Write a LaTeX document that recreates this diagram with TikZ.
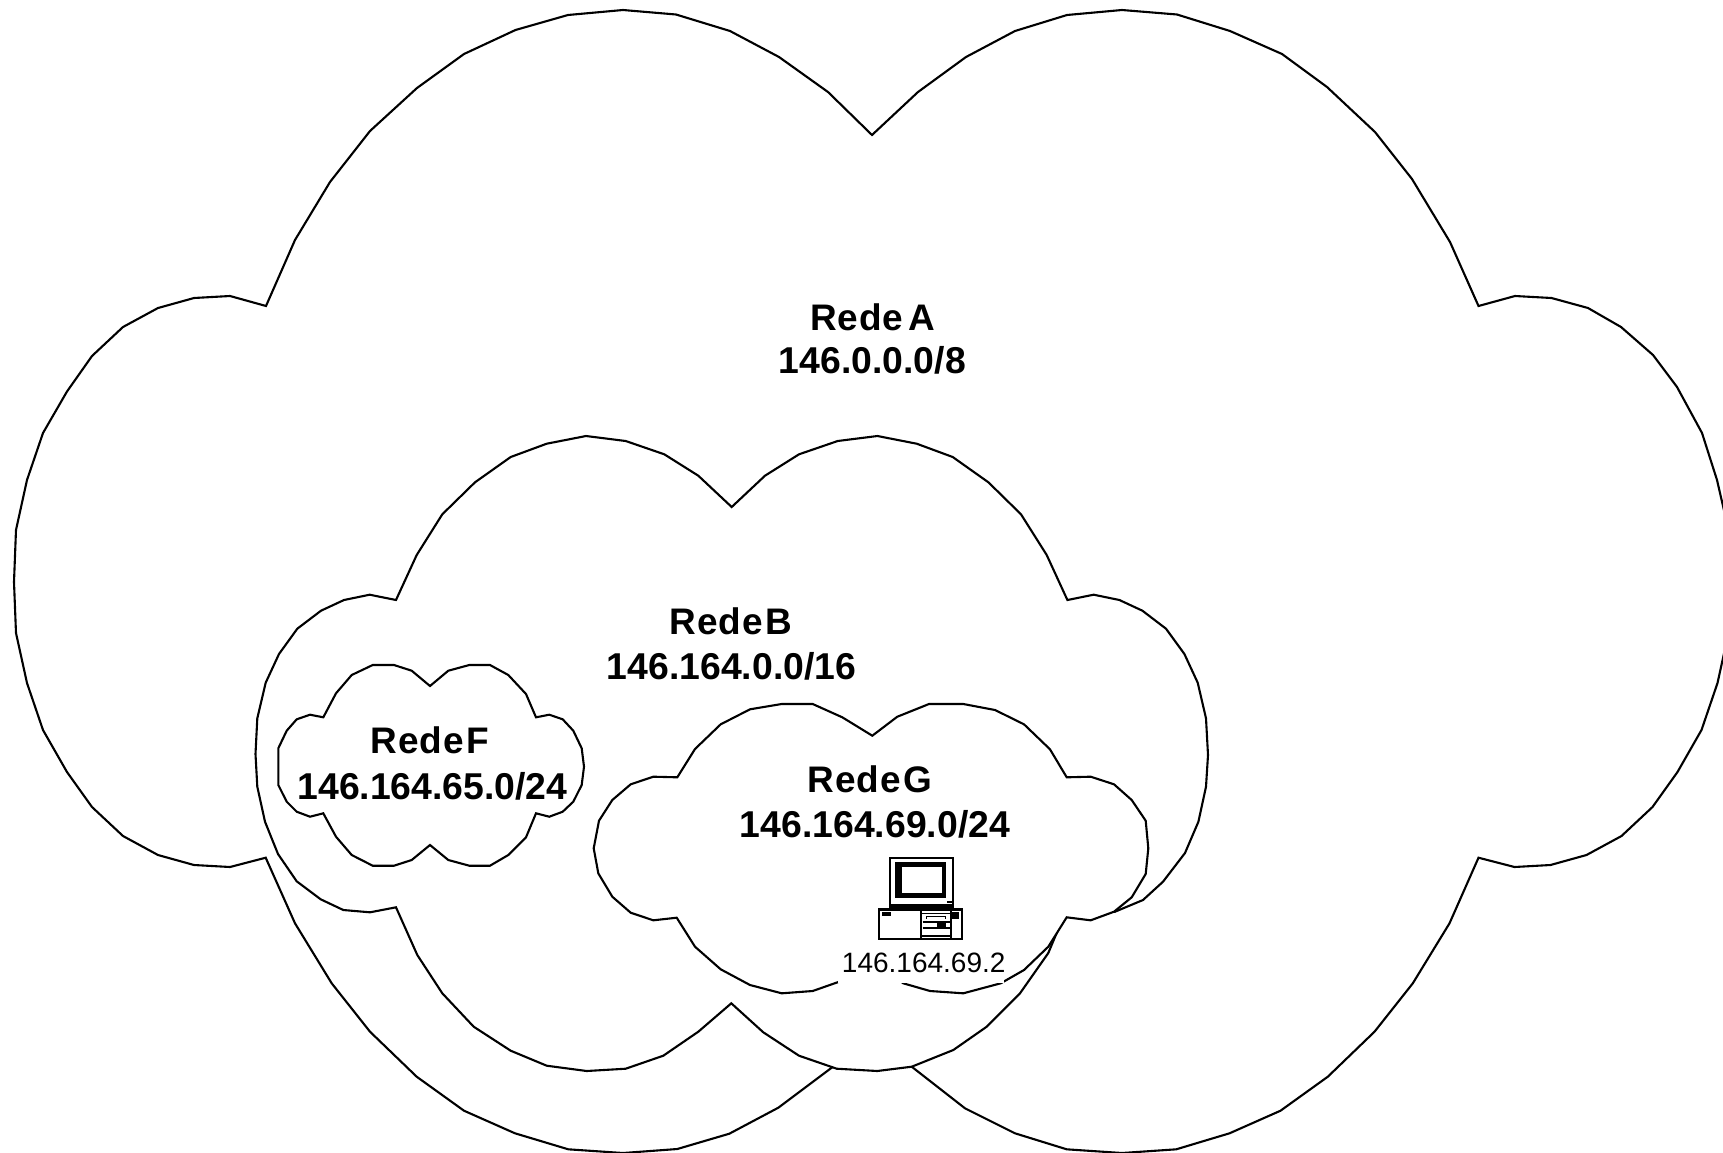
\documentclass[tikz,border=0pt]{standalone}
\usepackage{fontspec}
\setmainfont{Liberation Sans}
\newfontface\netface[LetterSpace=2.5]{Liberation Sans Bold}
\newcommand{\tightspace}[1]{\spaceskip=#1pt\relax}
\tikzset{
  cloudshape/.style={draw=black,fill=white,line width=2.1bp,line join=miter,miter limit=10},
  netname/.style={font={\fontsize{37.1}{44}\selectfont\netface},inner sep=0pt,anchor=base},
  netaddr/.style={font={\bfseries\fontsize{37.5}{44}\selectfont},inner sep=0pt,anchor=base},
  hostaddr/.style={font={\fontsize{28.1}{32}\selectfont},inner sep=0pt,anchor=base},
  iconline/.style={draw=black,line width=2bp},
  iconthin/.style={draw=black,line width=1.2bp},
  iconblack/.style={fill=black}
}
\begin{document}
\begin{tikzpicture}[x=1bp,y=-1bp]
\useasboundingbox (0,0) rectangle (1723,1152);
\clip (0,0) rectangle (1723,1152);
% Rede A
\path[cloudshape] (266,306) -- (230,296) -- (194,298) -- (158,308) -- (123,327) -- (92,356) -- (67,391.5) -- (43,433) -- (27,480) -- (16,530) -- (14,582) -- (16,633) -- (27,683) -- (43,730) -- (67,772) -- (92,807) -- (123,836) -- (158,855) -- (194,865) -- (230,867) -- (265.7,857.7)
 -- (295,923.3) -- (331.7,983.3) -- (370,1031.7) -- (416.7,1076.7) -- (464,1110.7) -- (515,1133.3) -- (568.3,1149.3) -- (623,1153) -- (677.3,1149) -- (729.3,1133.7) -- (778.3,1107.7) -- (831.7,1067.7) -- (872,1028)
 -- (911.7,1066.7) -- (965,1108.3) -- (1015,1133.3) -- (1066.7,1149.3) -- (1122,1153) -- (1176.2,1149.3) -- (1229.5,1133.3) -- (1280.5,1110.7) -- (1327.8,1076.7) -- (1374.5,1031.7) -- (1412.8,983.3) -- (1449.5,923.3) -- (1478.5,857.7)
 -- (1514.5,867) -- (1550.5,865) -- (1586.5,855) -- (1621.5,836) -- (1652.5,807) -- (1677.5,772) -- (1701.5,730) -- (1717.5,683) -- (1728.5,633) -- (1730.5,582) -- (1728.5,530) -- (1717,480) -- (1702,433) -- (1677,387) -- (1653,355) -- (1621,327) -- (1588,308) -- (1551.5,298) -- (1515,296) -- (1478.5,306)
 -- (1450,242) -- (1412,179) -- (1375,132) -- (1327,87) -- (1282,54) -- (1230,31) -- (1177,14.5) -- (1122,10) -- (1067,15) -- (1015,31) -- (966,57) -- (918,92) -- (872,135)
 -- (828,92) -- (779,57) -- (730,31) -- (676,14.5) -- (623,10) -- (568,15) -- (515.5,30) -- (464,54) -- (417,88) -- (370,131) -- (330,182) -- (295,240) -- cycle;
% Rede B
\path[cloudshape] (396,600) -- (369.7,594.7) -- (344,600) -- (321,610.7) -- (297.3,628.7) -- (279,654) -- (265.7,682.7) -- (257.3,718.3) -- (255.5,754) -- (257.3,786.7) -- (265,821.7) -- (278,854) -- (296.7,881.3) -- (320.7,899.3) -- (343.3,910) -- (370,912.3) -- (396,907.3)
 -- (417.3,955) -- (442.3,993.3) -- (473.7,1026.7) -- (510.7,1050.7) -- (546.7,1065.7) -- (586.7,1071) -- (625.7,1068.7) -- (663.3,1055.7) -- (698.3,1031.7) -- (731.3,1003.3)
 -- (763.3,1032.3) -- (799,1055.7) -- (836.7,1068.7) -- (877.3,1071) -- (911.7,1066.7) -- (953.3,1050) -- (986.7,1026.7) -- (1020,993.3) -- (1048.3,953) -- (1067.4,907.3)
 -- (1093.4,912.3) -- (1115,911.7) -- (1143,900) -- (1163,881.7) -- (1185,853) -- (1198.4,821.7) -- (1206,786.7) -- (1208,755) -- (1206,718.3) -- (1197.7,682.7) -- (1184.4,654) -- (1166,628.7) -- (1142.4,610.7) -- (1119.4,600) -- (1093.7,594.7) -- (1067.4,600)
 -- (1046.7,555) -- (1021,514.3) -- (988.4,482.3) -- (952.7,457) -- (916.7,443.7) -- (877.4,436) -- (837.7,441) -- (799,454.3) -- (765,475.7) -- (731.7,507)
 -- (698.3,475.7) -- (664.3,454.3) -- (625.7,441) -- (586,436) -- (546.7,443.7) -- (510.7,457) -- (475,482.3) -- (442.3,514.3) -- (416.7,555) -- cycle;
% Rede F
\path[cloudshape] (430,686) -- (411.7,670.7) -- (394,665) -- (372.7,665) -- (351.7,675) -- (336,693.3) -- (323.3,717.3) -- (310,714.7) -- (296.7,719.3) -- (286.7,730.7) -- (278.3,748.3) -- (278.3,785) -- (286.7,801.7) -- (296.7,811.7) -- (310,816.7) -- (323.3,813.3) -- (336,836.7) -- (351.7,855) -- (372.7,865.7) -- (394,865.7) -- (411.7,860) -- (430,845) -- (448.3,860) -- (469.3,865.7) -- (490,865.7) -- (508.3,855) -- (526,837.3) -- (536,813.3) -- (549.3,816.7) -- (562.7,811.7) -- (573.3,801.7) -- (581.7,785) -- (584,766.7) -- (581.7,748.3) -- (573.3,730.7) -- (562.7,719.3) -- (549.3,714.7) -- (536,717.3) -- (526,694) -- (508.3,675) -- (490,665) -- (469.3,665) -- (448.3,670.7) -- cycle;
% Rede G
\path[cloudshape] (677.3,777.3) -- (653.3,776.7) -- (630.7,784.3) -- (612.3,800) -- (599,820.7) -- (593.7,848.3) -- (598.3,873.3) -- (612.3,896.7) -- (630.7,912.7) -- (653.3,920.3) -- (676.7,917.7) -- (695,946.7) -- (720.7,969.3) -- (750,985) -- (781.7,993.3) -- (812.7,991) -- (838.3,982) -- (872.3,961) -- (903.3,983.3) -- (930,991) -- (963.3,993.3) -- (1000.7,983.3) -- (1024,970) -- (1048.3,946.7) -- (1066.7,917.3) -- (1090.7,920.3) -- (1114,911.7) -- (1131.7,897.3) -- (1145.7,874) -- (1148.3,848.3) -- (1145.7,820.7) -- (1131.7,800) -- (1114,784.3) -- (1090.7,776.7) -- (1066.7,777.3) -- (1050,749.3) -- (1024,724.3) -- (995,710) -- (963.3,704) -- (929,704) -- (897.3,716.7) -- (872.3,735.7) -- (842.3,717.3) -- (812.7,704) -- (781.7,704) -- (750,709.3) -- (720.7,724.3) -- (695,749) -- cycle;
% white backing of the host address
\fill[white] (838.3,948) rectangle (1003.5,982.7);
% labels
\node[netname] (nameA) at (872.5,330) {\tightspace{5}Rede A};
\node[netaddr] (addrA) at (872.3,373.8) {146.0.0.0/8};
\node[netname] (nameB) at (731,634) {\tightspace{3}Rede B};
\node[netaddr] (addrB) at (731.5,679) {146.164.0.0/16};
\node[netname] (nameF) at (430,753.6) {\tightspace{3}Rede F};
\node[netaddr] (addrF) at (432.5,799) {146.164.65.0/24};
\node[netname] (nameG) at (870,792.7) {\tightspace{3}Rede G};
\node[netaddr] (addrG) at (875,837.7) {146.164.69.0/24};
\node[hostaddr] (hostG) at (923.7,972.7) {146.164.69.2};
% computer icon
\begin{scope}[shift={(780,820)},x=0.33333bp,y=-0.33333bp]
  % monitor
  \draw[iconline] (330,113) rectangle (520,262);
  \fill[iconblack] (345,126) rectangle (498,234);
  \fill[white] (367,140) rectangle (485,220);
  \fill[white] (345,234) rectangle (357,242);
  \fill[iconblack] (500,243) rectangle (515,250);
  \draw[iconline] (330,256) -- (520,256);
  \draw[iconthin] (335,263) -- (515,263);
  % base unit
  \draw[iconline] (298,268) rectangle (545,357);
  \fill[iconblack] (298,268) rectangle (545,273);
  \fill[iconblack] (305,275) rectangle (333,289);
  \fill[iconblack] (515,275) rectangle (537,297);
  \draw[iconline] (423,270) -- (423,357);
  \draw[iconline] (512,270) -- (512,355);
  \draw[iconthin] (423,280) -- (512,280);
  \fill[iconblack] (438,287) rectangle (498,297);
  \fill[white] (442,292) rectangle (494,297);
  \draw[iconline] (428,307) -- (510,307);
  \draw[iconline] (428,325) -- (510,325);
  \fill[iconblack] (470,307) rectangle (497,325);
  \draw[iconline] (423,347) -- (512,347);
\end{scope}
\end{tikzpicture}
\end{document}
